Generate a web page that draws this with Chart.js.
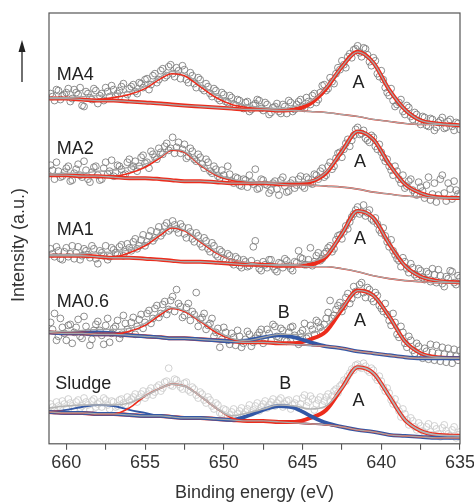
<!DOCTYPE html>
<html>
<head>
<meta charset="utf-8">
<script src="https://cdn.jsdelivr.net/npm/chart.js@4.4.1/dist/chart.umd.min.js"></script>
<style>
  html, body { margin: 0; padding: 0; background: #fff; }
  #wrap { width: 474px; height: 504px; }
</style>
</head>
<body>
<div id="wrap"><canvas id="xps"></canvas></div>
<script>
/* Fe 2p XPS spectra, stacked (a.u. with offsets) */

// fit grid (binding energy, eV)
const FIT_EV = [661.1, 660, 659, 658, 657, 656, 655, 654, 653.3, 652.5, 651.5, 650.5, 649.5, 648.5,
                647.5, 646.5, 645.5, 644.5, 643.5, 642.5, 641.5, 640.5, 639.5, 638.5, 637.5, 636.5, 635];
// measured points: two interleaved scans, 0.25 eV step
const POINT_EV  = Array.from({ length: 105 }, (_, i) => 661 - i * 0.25);
const POINT_EV2 = Array.from({ length: 104 }, (_, i) => 660.875 - i * 0.25);

// ---- MA4
const ma4Fit   = [348,348,349,350,352,354,359,369,374,372,361,351,344,340,338,337,339,344,358,379,394,383,356,336,325,322,320];
const ma4Bg    = [347,347,346,345,345,344,343,342,341,340,339,338,337,336,336,335,335,334,333,331,329,326,324,322,321,321,320];
const ma4PeakA = [347,347,346,345,345,344,343,342,341,340,339,338,337,336,336,335,336,342,357,379,394,383,356,336,325,322,320];
const ma4Sat   = [347,347,346,346,348,351,357,367,372,370,359,348,341,338,336,335,335,334,333,331,329,326,324,322,321,321,320];
const ma4Counts = [352,345,355,350,353,344,356,351,340,354,348,357,342,352,358,349,356,352,359,347,
                   357,361,352,362,366,356,370,363,375,368,379,372,378,367,376,363,370,358,366,355,
                   359,349,355,345,351,343,348,340,345,337,344,336,342,345,335,341,333,339,334,341,
                   332,343,336,344,339,348,341,352,346,360,355,368,362,378,385,378,392,396,400,389,
                   397,384,388,372,375,358,350,345,341,346,331,338,326,331,321,328,319,326,318,325,
                   317,324,319,323,316];
const ma4Counts2 = [349,356,346,351,357,347,353,358,339,352,346,355,350,345,354,360,349,355,362,351,
                    359,354,363,358,367,361,372,366,377,370,381,369,375,380,366,373,362,368,357,362,
                    352,357,347,353,344,350,341,346,338,343,334,340,346,337,343,331,338,342,332,339,
                    345,334,341,346,337,344,350,343,353,361,357,364,372,376,381,389,388,397,393,398,
                    391,380,385,369,366,353,357,339,343,334,340,329,333,324,329,320,327,315,323,328,
                    318,326,315,322];

// ---- MA2
const ma2Fit   = [271,272,272,274,275,278,281,289,296,294,281,271,266,264,263,263,263,264,273,294,314,306,281,261,252,248,247];
const ma2Bg    = [270,270,269,269,268,267,267,266,265,264,264,263,262,262,262,261,260,260,259,258,256,253,251,249,248,247,247];
const ma2PeakA = [270,270,269,269,268,267,267,266,265,264,264,263,262,262,262,261,261,263,272,294,314,306,281,261,252,248,247];
const ma2Sat   = [270,270,269,269,269,272,278,288,295,293,280,270,265,263,262,261,260,260,259,258,256,253,251,249,248,247,247];
const ma2Counts = [280,266,274,269,277,264,272,281,268,275,263,278,270,266,283,274,269,280,276,271,
                   286,279,274,288,282,277,291,286,293,299,295,308,298,292,301,289,294,284,288,277,
                   283,272,276,267,270,279,264,268,260,266,258,263,276,257,265,260,255,264,250,268,
                   253,262,257,266,259,268,262,271,266,277,270,283,279,292,288,302,299,310,318,312,
                   307,303,308,296,293,284,279,270,274,262,257,264,255,250,258,247,268,251,243,266,
                   252,262,246,255,249];
const ma2Counts2 = [275,283,268,273,279,265,276,270,284,266,273,279,265,277,271,285,273,279,270,283,
                    277,284,279,290,283,294,288,297,291,302,297,292,303,296,287,297,286,291,281,286,
                    274,279,269,275,265,271,262,267,259,265,270,261,256,266,261,252,262,256,265,259,
                    254,265,260,269,257,266,261,270,274,268,279,276,287,293,296,306,305,316,311,315,
                    305,310,299,301,288,286,275,279,266,270,259,266,252,263,254,260,245,262,250,270,
                    244,256,264,251];

// ---- MA1
const ma1Fit   = [190,190,191,192,193,195,201,212,218,215,204,193,185,182,180,180,180,183,189,211,234,227,201,179,168,164,162];
const ma1Bg    = [189,189,189,188,187,187,186,185,184,183,183,182,181,180,180,179,179,178,178,176,173,169,166,164,163,162,162];
const ma1PeakA = [189,189,189,188,187,187,186,185,184,183,183,182,181,180,180,179,179,180,188,211,234,227,201,179,168,164,162];
const ma1Sat   = [189,189,189,188,188,192,199,210,217,214,203,192,185,182,181,179,179,178,178,176,173,169,166,164,163,162,162];
const ma1Counts = [196,188,194,185,197,191,186,198,189,194,187,196,181,192,199,188,195,190,200,193,
                   197,203,196,205,199,209,204,213,209,219,214,224,216,221,211,217,206,212,201,207,
                   196,202,190,195,186,191,182,188,179,185,178,184,204,176,183,177,185,175,182,177,
                   184,176,183,194,186,180,197,183,192,186,193,199,196,209,206,219,223,231,238,233,
                   229,235,224,221,212,209,198,194,186,178,183,172,177,168,174,165,171,176,162,169,
                   158,166,173,160,167];
const ma1Counts2 = [191,198,186,193,188,199,192,185,196,190,199,186,194,189,185,197,192,198,189,201,
                    194,206,199,210,203,214,207,218,212,222,216,220,212,218,207,213,203,209,198,204,
                    193,199,188,193,184,189,180,186,177,183,179,198,181,174,180,185,178,173,181,186,
                    179,174,182,187,180,185,179,189,184,191,197,193,205,210,213,216,228,235,231,240,
                    232,226,227,215,217,203,205,190,184,187,176,181,170,176,167,173,163,170,175,161,
                    168,174,162,169];

// ---- MA0.6
const ma06Fit   = [113,113,114,115,115,116,121,132,137,134,124,114,106,104,107,110,110,111,118,136,154,149,128,103,91,87,86];
const ma06Bg    = [112,111,111,110,110,109,108,107,106,106,105,104,103,102,102,101,100,99,98,96,93,91,89,87,86,86,86];
const ma06PeakA = [112,111,111,110,110,109,108,107,106,106,105,104,103,102,102,101,101,105,113,135,154,149,128,103,91,87,86];
const ma06PeakB = [112,111,111,110,110,109,108,107,106,106,105,104,103,104,107,109,107,102,98,96,93,91,89,87,86,86,86];
const ma06SatB  = [112,112,113,113,112,110,108,107,106,106,105,104,103,102,102,101,100,99,98,96,93,91,89,87,86,86,86];
const ma06Sat   = [112,111,111,110,110,113,119,130,136,133,123,112,105,102,102,101,100,99,98,96,93,91,89,87,86,86,86];
const ma06Counts = [122,131,108,117,104,120,112,125,106,118,99,114,123,109,119,102,116,124,110,121,
                    113,127,118,130,122,134,126,139,131,143,135,148,155,138,129,141,133,152,125,131,
                    119,126,112,97,117,104,111,99,108,101,113,98,106,112,101,115,104,118,107,114,
                    103,117,109,100,114,106,119,110,122,113,126,144,129,139,133,147,141,158,150,162,
                    147,155,143,149,136,141,124,131,110,118,101,108,94,101,88,96,85,92,99,83,
                    90,96,81,88,94];
const ma06Counts2 = [115,104,126,111,119,101,117,108,128,112,105,120,114,100,126,111,118,106,129,115,
                     122,110,125,116,131,121,136,127,140,130,144,133,141,127,137,124,130,118,127,115,
                     121,108,116,105,112,100,107,114,97,105,110,102,109,115,105,111,120,108,116,104,
                     112,118,105,111,121,108,115,124,117,120,132,126,135,142,138,151,146,153,160,152,
                     157,146,152,139,133,130,119,122,107,112,97,104,91,98,86,93,100,84,91,97,
                     82,89,95,84];

// ---- Sludge
const sludgeFit   = [36,38,39,39,39,41,48,56,60,58,48,36,28,31,35,39,38,35,38,56,77,71,48,24,13,9,8];
const sludgeBg    = [32,31,31,30,30,29,28,28,27,26,26,25,24,23,23,22,21,20,19,17,14,12,9,8,7,6,6];
const sludgePeakA = [32,31,31,30,30,29,28,28,27,26,26,25,24,23,23,22,22,26,34,56,77,71,48,24,13,9,8];
const sludgePeakB = [32,31,31,30,30,29,28,28,27,26,26,25,24,28,34,38,36,28,21,17,14,12,9,8,7,6,6];
const sludgeSatB  = [32,34,37,39,38,34,31,28,27,26,26,25,24,23,23,22,21,20,19,17,14,12,9,8,7,6,6];
const sludgeSat   = [32,31,31,30,30,36,48,56,60,58,48,36,26,23,23,22,21,20,19,17,14,12,9,8,7,6,6];
const sludgeCounts = [40,33,38,43,36,41,35,44,38,42,34,45,40,37,44,35,42,38,45,39,
                      43,47,42,50,46,53,49,57,53,62,76,58,64,57,61,54,57,49,52,44,
                      47,38,41,31,35,27,32,26,33,29,35,31,38,33,40,36,42,38,44,37,
                      43,35,41,36,46,38,48,34,44,39,47,43,53,51,60,63,71,74,80,76,
                      78,72,74,64,63,53,51,40,38,27,30,19,23,14,18,11,20,9,15,7,
                      19,10,14,6,12];
const sludgeCounts2 = [37,42,35,40,45,38,42,36,46,39,43,37,42,46,39,43,37,44,41,47,
                       45,50,46,53,49,56,52,59,56,63,59,65,60,55,62,52,55,46,50,41,
                       44,35,39,30,34,29,35,30,36,32,39,34,41,37,43,39,45,41,46,40,
                       44,39,45,40,49,42,45,40,47,43,50,48,55,58,64,68,75,79,77,81,
                       74,76,67,68,57,56,44,45,33,35,24,26,17,21,13,17,12,18,10,16,
                       13,8,17,9];

// text annotations (energy, intensity)
const seriesNames = ['MA4', 'MA2', 'MA1', 'MA0.6', 'Sludge'];
const nameEV = [660.6, 660.6, 660.6, 660.6, 660.7];
const nameI  = [366, 291, 210, 138, 55];
const peakNames = ['A', 'A', 'A', 'A', 'B', 'A', 'B'];
const peakEV = [641.45, 641.35, 641.35, 641.35, 646.2, 641.45, 646.1];
const peakI  = [358, 278, 201, 118, 126, 38, 55];

const X_TICK_STEP = 2.5;

/* ================================================================
   DATASETS
   ================================================================ */
const RED = '#ec2c1c';
const BLUE = '#3358a6';
const FONT = '"Liberation Sans", Arial, Helvetica, sans-serif';

const toXY = (xs, ys) => xs.map((x, i) => ({ x, y: ys[i] }));

function curve(ys, color, width, order) {
    return {
        data: toXY(FIT_EV, ys), borderColor: color, borderWidth: width,
        pointRadius: 0, fill: false, cubicInterpolationMode: 'monotone', order
    };
}

function dots(xs, ys, color) {
    return {
        data: toXY(xs, ys), showLine: false, pointRadius: 3.4, pointBorderWidth: 0.9,
        pointBorderColor: color, pointBackgroundColor: 'rgba(0,0,0,0)', order: 10
    };
}

const datasets = [];
[[ma4Counts, ma4Counts2, ma4Fit, ma4Bg, ma4PeakA, ma4Sat],
 [ma2Counts, ma2Counts2, ma2Fit, ma2Bg, ma2PeakA, ma2Sat],
 [ma1Counts, ma1Counts2, ma1Fit, ma1Bg, ma1PeakA, ma1Sat]].forEach(([cnt, cnt2, fit, bg, a, sat]) => {
    datasets.push(dots(POINT_EV, cnt, '#808080'));
    datasets.push(dots(POINT_EV2, cnt2, '#808080'));
    datasets.push(curve(a, RED, 4, 5));
    datasets.push(curve(sat, RED, 1.6, 3));
    datasets.push(curve(bg, '#a8a8a8', 1.3, 2));
    datasets.push(curve(fit, '#a4a4a4', 1.3, 1));
});

[[ma06Counts, ma06Counts2, ma06Fit, ma06Bg, ma06PeakA, ma06PeakB, ma06SatB, ma06Sat, '#808080', '#a4a4a4', 1.3],
 [sludgeCounts, sludgeCounts2, sludgeFit, sludgeBg, sludgePeakA, sludgePeakB, sludgeSatB, sludgeSat, '#cccccc', '#b4b4b4', 1.7]]
    .forEach(([cnt, cnt2, fit, bg, a, b, satB, sat, dotColor, fitColor, fitWidth]) => {
        datasets.push(dots(POINT_EV, cnt, dotColor));
        datasets.push(dots(POINT_EV2, cnt2, dotColor));
        datasets.push(curve(satB, BLUE, 1.8, 6));
        datasets.push(curve(a, RED, 4, 5));
        datasets.push(curve(b, BLUE, 3.8, 4));
        datasets.push(curve(sat, RED, 1.6, 3));
        datasets.push(curve(bg, '#a8a8a8', 1.3, 2));
        datasets.push(curve(fit, fitColor, fitWidth, 1));
    });

/* ================================================================
   DECORATION: frame, labels, arrow, y title
   ================================================================ */
const decor = {
    id: 'decor',
    afterDraw(chart) {
        const { ctx, chartArea: a, scales: { x, y } } = chart;
        ctx.save();
        ctx.strokeStyle = '#555';
        ctx.lineWidth = 1.2;
        ctx.strokeRect(a.left, a.top, a.right - a.left, a.bottom - a.top);

        ctx.fillStyle = '#222';
        ctx.font = '18px ' + FONT;
        ctx.textBaseline = 'alphabetic';
        ctx.textAlign = 'left';
        seriesNames.forEach((n, i) => ctx.fillText(n, x.getPixelForValue(nameEV[i]), y.getPixelForValue(nameI[i])));
        ctx.textAlign = 'center';
        peakNames.forEach((n, i) => ctx.fillText(n, x.getPixelForValue(peakEV[i]), y.getPixelForValue(peakI[i])));

        // arrow
        const ax = a.left - 27, tip = a.top + 27, end = a.top + 69;
        ctx.strokeStyle = '#222';
        ctx.lineWidth = 1.3;
        ctx.beginPath(); ctx.moveTo(ax, tip + 8); ctx.lineTo(ax, end); ctx.stroke();
        ctx.beginPath(); ctx.moveTo(ax, tip); ctx.lineTo(ax - 3.5, tip + 12); ctx.lineTo(ax + 3.5, tip + 12); ctx.closePath(); ctx.fill();

        // y title
        ctx.translate(a.left - 30, a.top + 232);
        ctx.rotate(-Math.PI / 2);
        ctx.textBaseline = 'middle';
        ctx.fillStyle = '#333';
        ctx.fillText('Intensity (a.u.)', 0, 0);
        ctx.restore();
    }
};

/* ================================================================
   CHART
   ================================================================ */
new Chart(document.getElementById('xps'), {
    type: 'line',
    data: { datasets },
    plugins: [decor],
    options: {
        responsive: true,
        maintainAspectRatio: false,
        animation: false,
        devicePixelRatio: 1,
        layout: { padding: { left: 49, top: 13, right: 14, bottom: 0 } },
        plugins: { legend: { display: false }, tooltip: { enabled: false } },
        scales: {
            x: {
                type: 'linear', reverse: true, min: 635, max: 661.1,
                afterFit: s => { s.paddingRight = 0; s.paddingLeft = 0; },
                border: { display: false },
                grid: { drawOnChartArea: false, drawTicks: true, tickLength: 6, color: '#555', lineWidth: 1.1 },
                ticks: {
                    stepSize: X_TICK_STEP, includeBounds: false, autoSkip: false, maxRotation: 0, padding: 2,
                    color: '#333', font: { size: 18, family: FONT },
                    callback: v => (v % 5 === 0 ? String(v) : '')
                },
                title: { display: true, text: 'Binding energy (eV)', color: '#333', font: { size: 18, family: FONT }, padding: { top: 7, bottom: 0 } }
            },
            y: { display: false, min: 0, max: 433 }
        }
    }
});
</script>
</body>
</html>
